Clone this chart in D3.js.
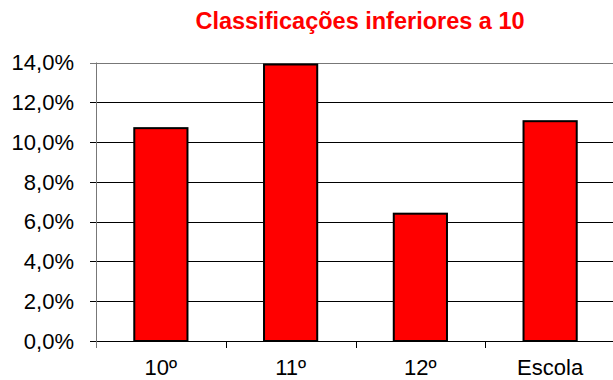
<!DOCTYPE html>
<html>
<head>
<meta charset="utf-8">
<script src="https://cdn.jsdelivr.net/npm/d3@7"></script>
<style>
  html, body { margin: 0; padding: 0; background: #fff; }
  svg { display: block; }
</style>
</head>
<body>
<svg id="chart" width="613" height="380"></svg>
<script>
// Share of grades below 10, per school year and for the whole school
const categories = ["10º", "11º", "12º", "Escola"];
const values = [0.107, 0.139, 0.064, 0.1105];
const yTicks = [0, 0.02, 0.04, 0.06, 0.08, 0.10, 0.12, 0.14];
const titleText = "Classificações inferiores a 10";

const svg = d3.select("#chart");
const W = 613, H = 380;
const margin = { left: 96, right: -2, top: 62.5, bottom: 39 };
const font = "'Liberation Sans', Arial, sans-serif";

const x = d3.scaleBand()
  .domain(categories)
  .range([margin.left, W - margin.right])
  .paddingInner(0.59)
  .paddingOuter(0.295);

const bands = d3.scaleBand()
  .domain(categories)
  .range([margin.left, W - margin.right]);

const y = d3.scaleLinear()
  .domain([0, 0.14])
  .range([H - margin.bottom, margin.top]);

const fmt = v => d3.format(".1f")(v * 100).replace(".", ",") + "%";

// horizontal gridlines with left tick stubs
svg.append("g")
  .selectAll("line")
  .data(yTicks)
  .join("line")
  .attr("x1", margin.left - 6)
  .attr("x2", W)
  .attr("y1", d => Math.round(y(d)) + 0.5)
  .attr("y2", d => Math.round(y(d)) + 0.5)
  .attr("stroke", d => d === 0.14 ? "#777" : "#000")
  .attr("stroke-width", 1);

// y tick labels
svg.append("g")
  .selectAll("text")
  .data(yTicks)
  .join("text")
  .attr("x", 74)
  .attr("y", d => y(d) + 7.8)
  .attr("text-anchor", "end")
  .attr("font-family", font)
  .attr("font-size", 22)
  .attr("fill", "#000")
  .text(fmt);

// vertical axis line
svg.append("line")
  .attr("x1", margin.left + 0.5)
  .attr("x2", margin.left + 0.5)
  .attr("y1", y(0.14))
  .attr("y2", y(0) + 7)
  .attr("stroke", "#777")
  .attr("stroke-width", 1);

// category boundary ticks
svg.append("g")
  .selectAll("line")
  .data(categories.slice(1))
  .join("line")
  .attr("x1", d => Math.round(bands(d)) + 0.5)
  .attr("x2", d => Math.round(bands(d)) + 0.5)
  .attr("y1", y(0))
  .attr("y2", y(0) + 7)
  .attr("stroke", "#000");

// bars
svg.append("g")
  .selectAll("rect")
  .data(values)
  .join("rect")
  .attr("x", (d, i) => x(categories[i]))
  .attr("width", x.bandwidth())
  .attr("y", d => y(d))
  .attr("height", d => y(0) - y(d))
  .attr("fill", "#ff0000")
  .attr("stroke", "#000")
  .attr("stroke-width", 2);

// category labels
svg.append("g")
  .selectAll("text")
  .data(categories)
  .join("text")
  .attr("x", d => bands(d) + bands.bandwidth() / 2)
  .attr("y", 375)
  .attr("text-anchor", "middle")
  .attr("font-family", font)
  .attr("font-size", 22)
  .attr("fill", "#000")
  .text(d => d);

// title
svg.append("text")
  .attr("x", 360)
  .attr("y", 29)
  .attr("text-anchor", "middle")
  .attr("font-family", font)
  .attr("font-size", 23.5)
  .attr("font-weight", "bold")
  .attr("fill", "#ff0000")
  .text(titleText);
</script>
</body>
</html>
